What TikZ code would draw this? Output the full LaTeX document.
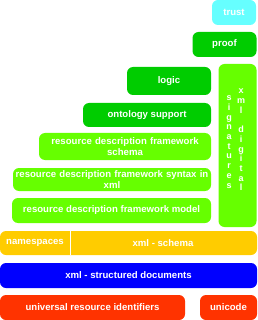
\documentclass[tikz,border=0pt]{standalone}
\usepackage{fontspec}
\setmainfont{Liberation Sans}
\begin{document}
\begin{tikzpicture}[x=1pt,y=-1pt,
  layer/.style={rounded corners=6pt, inner sep=1pt, text=white, align=center,
    font=\fontsize{9.6}{10.5}\selectfont\bfseries},
  plain/.style={inner sep=0pt, text=white, font=\fontsize{9.6}{10.5}\selectfont\bfseries}]
\definecolor{cTrust}{HTML}{66FFFF}
\definecolor{cDark}{HTML}{00CC00}
\definecolor{cLight}{HTML}{66FF00}
\definecolor{cYellow}{HTML}{FFCC00}
\definecolor{cBlue}{HTML}{0000FF}
\definecolor{cRed}{HTML}{FF3300}
\useasboundingbox (0,0) rectangle (257,320);
\node[layer, fill=cTrust, minimum width=44pt, minimum height=25pt] (trust) at (234,12.5) {trust};
\node[layer, fill=cDark, minimum width=64pt, minimum height=25pt] (proof) at (224.5,44.5) {proof};
\node[layer, fill=cDark, minimum width=84pt, minimum height=28pt] (logic) at (169,81) {logic};
\node[layer, fill=cLight, minimum width=38pt, minimum height=163pt,
  font=\fontsize{9}{9.7}\selectfont\bfseries] (sig) at (237.5,145.5) {};
\node[plain, align=center, font=\fontsize{9}{9.7}\selectfont\bfseries] (sigA) at (241,140)
  {x\\m\\l\\[9.7pt]d\\i\\g\\i\\t\\a\\l};
\node[plain, align=center, font=\fontsize{9}{9.7}\selectfont\bfseries] (sigB) at (229,142)
  {s\\i\\g\\n\\a\\t\\u\\r\\e\\s};
\node[layer, fill=cDark, minimum width=128pt, minimum height=24pt] (onto) at (147,115) {ontology support};
\node[layer, fill=cLight, minimum width=172pt, minimum height=27pt, text width=168pt] (rdfs) at (125,146.5) {resource description framework\\schema};
\node[layer, fill=cLight, minimum width=198pt, minimum height=23pt, text width=196pt] (rdfx) at (112,179.5) {resource description framework syntax in\\xml};
\node[layer, fill=cLight, minimum width=199pt, minimum height=25pt] (rdfm) at (111.5,210.5) {resource description framework model};
\node[layer, fill=cYellow, minimum width=257pt, minimum height=24pt] (bar) at (128.5,243) {};
\node[plain] (ns) at (35,243) {namespaces};
\node[plain] (xs) at (163,243) {xml - schema};
\draw[white, line width=0.8pt] (bar.north -| 70,0) -- (bar.south -| 70,0);
\node[layer, fill=cBlue, minimum width=257pt, minimum height=25pt] (xmlsd) at (128.5,275.5) {xml - structured documents};
\node[layer, fill=cRed, minimum width=185pt, minimum height=25pt] (uri) at (92.5,307.5) {universal resource identifiers};
\node[layer, fill=cRed, minimum width=57pt, minimum height=25pt] (uni) at (228.5,307.5) {unicode};
\end{tikzpicture}
\end{document}
